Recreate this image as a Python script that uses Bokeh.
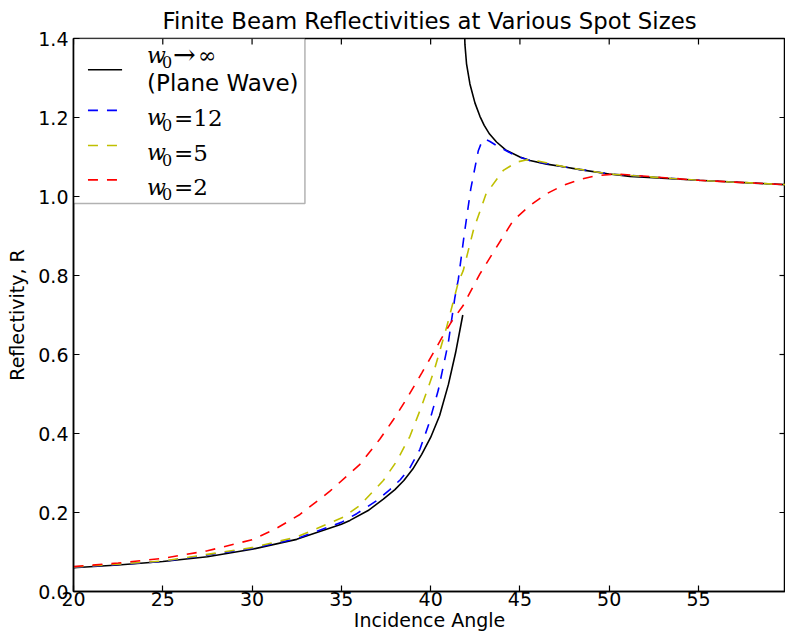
from bokeh.plotting import figure
from bokeh.models import Range1d, BoxAnnotation, Label, FixedTicker
from bokeh.embed import file_html
from bokeh.resources import INLINE

# ---- data ----
x_ticks = [20, 25, 30, 35, 40, 45, 50, 55]
y_ticks = [0.0, 0.2, 0.4, 0.6, 0.8, 1.0, 1.2, 1.4]

# plane wave, below critical angle
pw_lo_x = [20, 22.5, 25, 27.5, 30, 32.5, 35, 35.48, 36.5, 37.35, 38.0, 38.5, 39.0, 39.5, 40.0, 40.5, 41.0, 41.4, 41.8]
pw_lo_y = [0.060, 0.067, 0.076, 0.088, 0.107, 0.132, 0.170, 0.180, 0.205, 0.234, 0.258, 0.281, 0.310, 0.347, 0.390, 0.445, 0.525, 0.605, 0.700]
# plane wave, above critical angle
pw_hi_x = [41.88, 41.92, 42.01, 42.2, 42.48, 42.76, 43.0, 43.3, 43.69, 44.2, 45.0, 45.56, 46.5, 47.6, 48.36, 50.0, 51.16, 55.0, 59.84]
pw_hi_y = [1.45, 1.385, 1.336, 1.285, 1.237, 1.203, 1.180, 1.158, 1.138, 1.118, 1.100, 1.091, 1.082, 1.074, 1.068, 1.057, 1.051, 1.041, 1.030]

w12_x = [20, 25, 30, 32.5, 35, 35.86, 36.98, 37.72, 38.3, 38.8, 39.4, 39.87, 40.43, 40.99, 41.36, 41.55, 41.9, 42.25, 42.67, 42.86, 43.04, 43.3, 43.69, 44.81, 45.56, 47.6, 50.0, 55.0, 59.84]
w12_y = [0.061, 0.076, 0.109, 0.134, 0.175, 0.197, 0.230, 0.258, 0.283, 0.310, 0.360, 0.420, 0.510, 0.630, 0.745, 0.790, 0.910, 1.020, 1.116, 1.138, 1.145, 1.140, 1.129, 1.102, 1.091, 1.074, 1.057, 1.041, 1.030]

w5_x = [20, 25, 30, 32.5, 35.11, 36.04, 37.35, 38.1, 38.84, 39.4, 39.87, 40.2, 40.9, 41.55, 41.83, 42.39, 42.58, 43.13, 43.32, 44.07, 44.81, 45.4, 46.0, 47.6, 50.0, 55.0, 59.84]
w5_y = [0.062, 0.077, 0.111, 0.138, 0.188, 0.218, 0.281, 0.330, 0.393, 0.458, 0.517, 0.560, 0.670, 0.783, 0.813, 0.914, 0.939, 1.010, 1.020, 1.066, 1.087, 1.093, 1.090, 1.074, 1.057, 1.041, 1.030]

w2_x = [20, 22.5, 25, 27.5, 30, 31.3, 32.68, 34.36, 36.04, 37.16, 37.9, 38.66, 39.5, 40.15, 40.6, 41.18, 41.82, 42.76, 43.69, 44.62, 45.56, 46.49, 47.42, 48.36, 49.29, 50.41, 55.0, 59.84]
w2_y = [0.063, 0.072, 0.084, 0.103, 0.131, 0.158, 0.195, 0.254, 0.322, 0.386, 0.434, 0.488, 0.553, 0.604, 0.640, 0.684, 0.724, 0.804, 0.872, 0.939, 0.977, 1.007, 1.028, 1.043, 1.053, 1.057, 1.041, 1.030]

series_colors = ["black", "#0000ff", "#bfbf00", "#ff0000"]
legend_values = ["\u2192\u221e", "=12", "=5", "=2"]

FONT = "DejaVu Sans"
W, H = 785, 643
BL, BR, BT, BB = 73, 0, 38, 52
FW, FH = W - BL - BR, H - BT - BB  # frame size in px (712 x 553)
PX_PER_DEG = 17.857
X0, Y0, Y1 = 20, 0.0, 1.4
X1 = X0 + FW / PX_PER_DEG

p = figure(width=W, height=H, output_backend="svg", toolbar_location=None,
           x_range=Range1d(X0, X1), y_range=Range1d(Y0, Y1),
           min_border_left=BL, min_border_right=BR, min_border_top=BT, min_border_bottom=BB,
           title="Finite Beam Reflectivities at Various Spot Sizes")
p.outline_line_color = "black"
p.outline_line_width = 1.5
p.xgrid.visible = False
p.ygrid.visible = False
p.background_fill_color = "white"
p.border_fill_color = "white"

p.title.text_font = FONT
p.title.text_font_size = "22.8px"
p.title.text_font_style = "normal"
p.title.align = "center"
p.title.text_color = "black"

for ax in (p.xaxis[0], p.yaxis[0]):
    ax.major_tick_in = 6
    ax.major_tick_out = 0
    ax.minor_tick_in = 0
    ax.minor_tick_out = 0
    ax.axis_line_width = 1.5
    ax.major_tick_line_width = 1.2
    ax.axis_line_color = "black"
    ax.major_tick_line_color = "black"
    ax.major_label_text_font = FONT
    ax.major_label_text_font_size = "19px"
    ax.major_label_text_color = "black"
    ax.axis_label_text_font = FONT
    ax.axis_label_text_font_size = "19px"
    ax.axis_label_text_font_style = "normal"
    ax.axis_label_text_color = "black"

p.xaxis.ticker = FixedTicker(ticks=x_ticks)
p.yaxis.ticker = FixedTicker(ticks=y_ticks)
p.xaxis.major_label_overrides = {t: str(t) for t in x_ticks}
p.yaxis.major_label_overrides = {t: "%.1f" % t for t in y_ticks}
p.xaxis.axis_label = "Incidence Angle"
p.yaxis.axis_label = "Reflectivity, R"
p.xaxis.major_label_standoff = 0
p.yaxis.major_label_standoff = 5
p.xaxis.axis_label_standoff = 0
p.yaxis.axis_label_standoff = 7

# inward tick marks on the top and right spines (matplotlib style)
tick_len_y = 6 * (Y1 - Y0) / FH
tick_len_x = 6 * (X1 - X0) / FW
p.segment(x0=x_ticks, y0=[Y1] * len(x_ticks), x1=x_ticks, y1=[Y1 - tick_len_y] * len(x_ticks),
          line_color="black", line_width=1.2)
p.segment(x0=[X1] * len(y_ticks), y0=y_ticks, x1=[X1 - tick_len_x] * len(y_ticks), y1=y_ticks,
          line_color="black", line_width=1.2)

LW = 1.6
DASH = "10 9"
p.line(pw_lo_x, pw_lo_y, line_color=series_colors[0], line_width=LW)
p.line(pw_hi_x, pw_hi_y, line_color=series_colors[0], line_width=LW)
p.line(w12_x, w12_y, line_color=series_colors[1], line_width=LW, line_dash=DASH)
p.line(w5_x, w5_y, line_color=series_colors[2], line_width=LW, line_dash=DASH)
p.line(w2_x, w2_y, line_color=series_colors[3], line_width=LW, line_dash=DASH)

# ---- legend box (drawn manually, matplotlib style) ----
box = BoxAnnotation(left=20, right=32.96, bottom=0.982, top=1.4, level="underlay",
                    fill_color="white", fill_alpha=1.0, line_color="black", line_width=1.5)
p.add_layout(box)

item_y = [1.321, 1.218, 1.129, 1.042]
lx0, lx1 = 20.81, 22.72
for i, (yy, col) in enumerate(zip(item_y, series_colors)):
    p.line([lx0, lx1], [yy, yy], line_color=col, line_width=LW,
           line_dash="solid" if i == 0 else DASH)

tx = 24.12
base_rows = [1.357, 1.200, 1.111, 1.023]
for i, (yy, val) in enumerate(zip(base_rows, legend_values)):
    p.add_layout(Label(x=tx, y=yy, text="w", text_font="DejaVu Serif", text_font_style="italic",
                       text_font_size="22px", text_baseline="alphabetic", text_color="black"))
    p.add_layout(Label(x=tx, y=yy, x_offset=15, y_offset=-7, text="0", text_font="DejaVu Serif",
                       text_font_size="16px", text_baseline="alphabetic", text_color="black"))
    if i == 0:
        p.add_layout(Label(x=tx, y=yy, x_offset=26, y_offset=1, text=val[0], text_font="DejaVu Serif",
                           text_font_size="27px", text_baseline="alphabetic", text_color="black"))
        p.add_layout(Label(x=tx, y=yy, x_offset=51, text=val[1], text_font="DejaVu Serif",
                           text_font_size="22px", text_baseline="alphabetic", text_color="black"))
    else:
        p.add_layout(Label(x=tx, y=yy, x_offset=27, text=val, text_font="DejaVu Serif",
                           text_font_size="23px", text_baseline="alphabetic", text_color="black"))
p.add_layout(Label(x=tx, y=1.2886, text="(Plane Wave)", text_font=FONT, text_font_size="23px",
                   text_baseline="alphabetic", text_color="black"))

open("out.html", "w").write(file_html(p, INLINE))
